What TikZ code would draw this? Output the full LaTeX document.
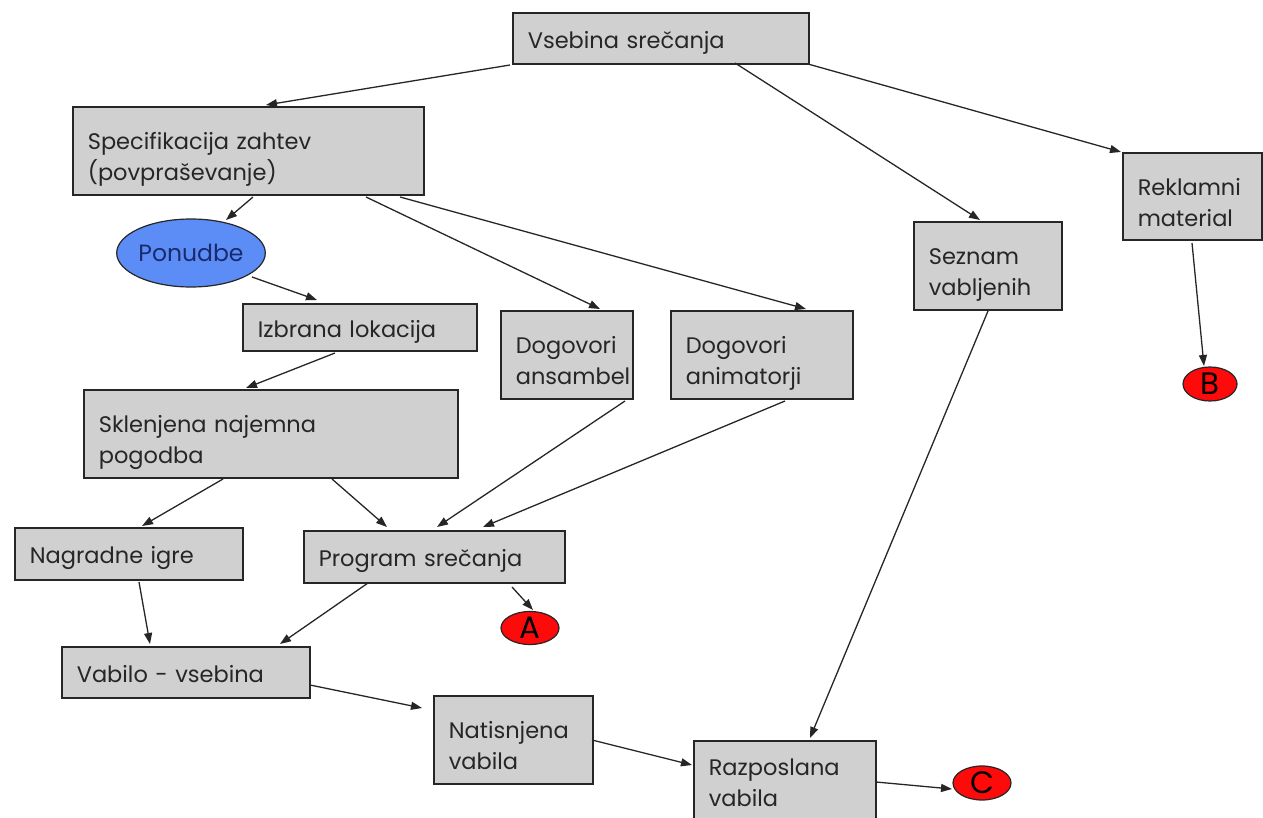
\documentclass[tikz,border=0pt]{standalone}
\usepackage{fontspec}
\setmainfont{Poppins}
\usetikzlibrary{arrows.meta,shapes.geometric}
\definecolor{boxgray}{HTML}{D0D0D0}
\definecolor{offerblue}{HTML}{5C8DF6}
\definecolor{offertext}{HTML}{1A2A6C}
\definecolor{ink}{HTML}{262626}
\definecolor{markred}{HTML}{FF0A0A}
\begin{document}
\begin{tikzpicture}[x=1pt,y=-1pt,
  box/.style={draw=ink, line width=1.6pt, fill=boxgray, anchor=north west,
    inner xsep=15pt, inner ysep=0pt, text=ink, align=left,
    font=\fontsize{22.5}{31}\selectfont},
  oneline/.style={box, text height=20pt, text depth=0pt},
  twoline/.style={box, text height=29pt, text depth=31pt},
  oval/.style={ellipse, draw=ink, line width=1.2pt, inner sep=0pt},
  redmark/.style={oval, fill=markred, text=black, font=\fontsize{31}{32}\selectfont},
  arr/.style={draw=ink, line width=1.3pt, -{Triangle[length=11pt,width=8pt]}}
]
\useasboundingbox (0,0) rectangle (1263,818);
\clip (0,0) rectangle (1263,818);

% boxes
\node[oneline, minimum width=296pt, minimum height=51pt, text width=266pt] (vs) at (512,12) {Vsebina srečanja};
\node[twoline, minimum width=351pt, minimum height=88pt, text width=321pt] (spec) at (72,106) {Specifikacija zahtev\\(povpraševanje)};
\node[oval, fill=offerblue, text=offertext, minimum width=148pt, minimum height=68pt,
      font=\fontsize{23.5}{31}\selectfont] (pon) at (191,253) {Ponudbe};
\node[oneline, minimum width=234pt, minimum height=47pt, text width=204pt] (izb) at (242,303) {Izbrana lokacija};
\node[twoline, minimum width=132pt, minimum height=88pt, text width=102pt] (dans) at (500,310) {Dogovori\\ansambel};
\node[twoline, minimum width=182pt, minimum height=88pt, text width=152pt] (danim) at (670,310) {Dogovori\\animatorji};
\node[twoline, minimum width=148pt, minimum height=88pt, text width=118pt] (sez) at (913,221) {Seznam\\vabljenih};
\node[twoline, minimum width=139pt, minimum height=87pt, text width=109pt] (rek) at (1122,152) {Reklamni\\material};
\node[redmark, minimum width=54pt, minimum height=34pt] (B) at (1210,384) {B};
\node[twoline, minimum width=374pt, minimum height=88pt, text width=344pt] (skl) at (83,389) {Sklenjena najemna\\pogodba};
\node[oneline, minimum width=228pt, minimum height=52pt, text width=198pt] (nag) at (14,527) {Nagradne igre};
\node[oneline, minimum width=261pt, minimum height=52pt, text width=231pt] (prog) at (303,530) {Program srečanja};
\node[redmark, minimum width=58pt, minimum height=33pt] (A) at (530,628) {A};
\node[oneline, minimum width=248pt, minimum height=51pt, text width=218pt] (vab) at (61,646) {Vabilo - vsebina};
\node[twoline, minimum width=159pt, minimum height=88pt, text width=129pt] (nat) at (433,695) {Natisnjena\\vabila};
\node[twoline, text height=21pt, minimum width=182pt, minimum height=80pt, text width=152pt] (raz) at (693,740) {Razposlana\\vabila};
\node[redmark, minimum width=58pt, minimum height=34pt] (C) at (982,783) {C};

% connectors
\draw[arr] ([shift={(-2,53)}]vs.north west) -- ([shift={(194,-1)}]spec.north west);
\draw[arr] ([shift={(223,51)}]vs.north west) -- ([shift={(67,-1)}]sez.north west);
\draw[arr] ([shift={(296,52)}]vs.north west) -- ([shift={(-1,0)}]rek.north west);
\draw[arr] ([shift={(181,91)}]spec.north west) -- ([shift={(35,-33)}]pon.center);
\draw[arr] ([shift={(294,91)}]spec.north west) -- ([shift={(100,-1)}]dans.north west);
\draw[arr] ([shift={(328,91)}]spec.north west) -- ([shift={(136,-1)}]danim.north west);
\draw[arr] ([shift={(61,24)}]pon.center) -- ([shift={(75,-3)}]izb.north west);
\draw[arr] ([shift={(93,50)}]izb.north west) -- ([shift={(163,-1)}]skl.north west);
\draw[arr] ([shift={(140,90)}]skl.north west) -- ([shift={(128,-1)}]nag.north west);
\draw[arr] ([shift={(249,90)}]skl.north west) -- ([shift={(84,-3)}]prog.north west);
\draw[arr] ([shift={(125,91)}]dans.north west) -- ([shift={(134,-3)}]prog.north west);
\draw[arr] ([shift={(115,91)}]danim.north west) -- ([shift={(180,-3)}]prog.north west);
\draw[arr] ([shift={(125,55)}]nag.north west) -- ([shift={(89,-2)}]vab.north west);
\draw[arr] ([shift={(65,53)}]prog.north west) -- ([shift={(219,-2)}]vab.north west);
\draw[arr] ([shift={(209,57)}]prog.north west) -- ([shift={(3,-18)}]A.center);
\draw[arr] ([shift={(249,39)}]vab.north west) -- ([shift={(-11,13)}]nat.north west);
\draw[arr] ([shift={(159,45)}]nat.north west) -- ([shift={(-1,25)}]raz.north west);
\draw[arr] ([shift={(75,90)}]sez.north west) -- ([shift={(117,-2)}]raz.north west);
\draw[arr] ([shift={(70,91)}]rek.north west) -- ([shift={(-6,-18)}]B.center);
\draw[arr] ([shift={(183,42)}]raz.north west) -- ([shift={(-30,6)}]C.center);
\end{tikzpicture}
\end{document}
